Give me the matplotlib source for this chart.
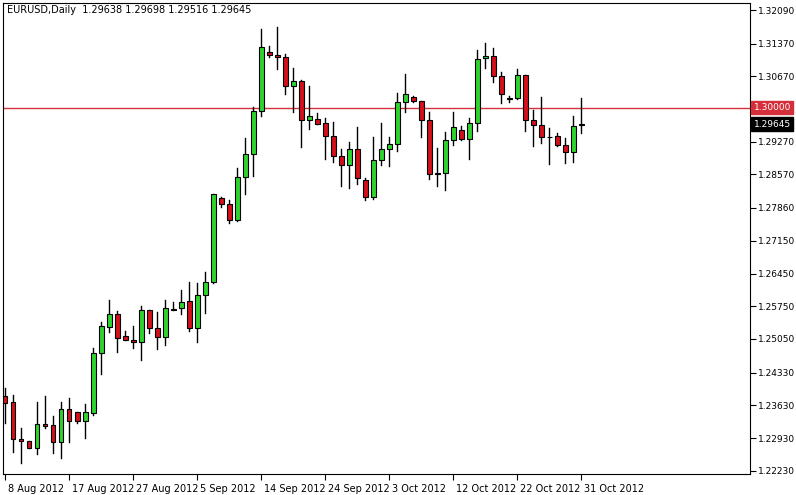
import matplotlib
matplotlib.use("Agg")
import matplotlib.pyplot as plt
from matplotlib.patches import Rectangle
import matplotlib.transforms as mt

opens = [1.23830,1.23701,1.22909,1.22867,1.22717,1.23230,1.23209,1.22845,1.23551,1.23487,
         1.23295,1.23466,1.24750,1.25306,1.25584,1.25114,1.25028,1.24985,1.25670,1.25285,
         1.25092,1.25691,1.25713,1.25863,1.25285,1.25991,1.26269,1.28067,1.27938,1.27596,
         1.28516,1.29008,1.29929,1.31191,1.31127,1.31084,1.30464,1.30571,1.29736,1.29757,
         1.29672,1.29394,1.28966,1.28773,1.29115,1.28452,1.28088,1.28880,1.29115,1.29222,
         1.30121,1.30228,1.30143,1.29736,1.28602,1.28602,1.29308,1.29522,1.29329,1.29672,
         1.31063,1.31106,1.30678,1.30207,1.30207,1.30699,1.29736,1.29629,1.29372,1.29394,
         1.29201,1.29051,1.29638]
highs = [1.24001,1.23851,1.23145,1.22867,1.23701,1.23830,1.23402,1.23701,1.23787,1.23487,
         1.23658,1.24857,1.25413,1.25884,1.25649,1.25221,1.25328,1.25756,1.25670,1.25627,
         1.25884,1.25841,1.26098,1.26269,1.26248,1.26483,1.28152,1.28088,1.28024,1.28709,
         1.29351,1.30014,1.31683,1.31320,1.31726,1.31148,1.30849,1.30592,1.30464,1.29886,
         1.29779,1.29693,1.29115,1.29265,1.29586,1.28495,1.29372,1.29672,1.29372,1.30314,
         1.30720,1.30250,1.30143,1.29907,1.29137,1.29479,1.29907,1.29608,1.29779,1.31234,
         1.31384,1.31277,1.30763,1.30250,1.30827,1.30699,1.29950,1.30228,1.29565,1.29458,
         1.29351,1.29822,1.30207]
lows = [1.23252,1.22631,1.22396,1.22717,1.22588,1.23145,1.22610,1.22503,1.22845,1.23252,
        1.22931,1.23423,1.24300,1.25199,1.24771,1.25028,1.24857,1.24600,1.25178,1.24835,
        1.24921,1.25670,1.25584,1.25221,1.24985,1.25606,1.26248,1.27874,1.27532,1.27575,
        1.28152,1.28538,1.29822,1.31084,1.30827,1.30292,1.29907,1.29158,1.29543,1.29650,
        1.28901,1.28837,1.28324,1.28281,1.28366,1.28024,1.28045,1.28773,1.28752,1.29073,
        1.29907,1.30121,1.29372,1.28473,1.28324,1.28238,1.29201,1.29308,1.28901,1.29501,
        1.30849,1.30549,1.30100,1.30121,1.30185,1.29501,1.29180,1.29244,1.28794,1.29180,
        1.28816,1.28837,1.29458]
closes = [1.23680,1.22909,1.22867,1.22717,1.23230,1.23188,1.22845,1.23551,1.23295,1.23295,
          1.23487,1.24750,1.25328,1.25584,1.25071,1.25028,1.24985,1.25670,1.25285,1.25092,
          1.25713,1.25670,1.25841,1.25285,1.25991,1.26269,1.28152,1.27938,1.27596,1.28516,
          1.29008,1.29929,1.31298,1.31127,1.31084,1.30464,1.30571,1.29736,1.29822,1.29650,
          1.29394,1.28966,1.28773,1.29115,1.28495,1.28088,1.28880,1.29115,1.29222,1.30121,
          1.30292,1.30143,1.29736,1.28580,1.28580,1.29308,1.29586,1.29329,1.29672,1.31041,
          1.31106,1.30678,1.30292,1.30196,1.30699,1.29736,1.29629,1.29372,1.29370,1.29201,
          1.29051,1.29608,1.29645]

date_labels = ["8 Aug 2012","17 Aug 2012","27 Aug 2012","5 Sep 2012","14 Sep 2012",
               "24 Sep 2012","3 Oct 2012","12 Oct 2012","22 Oct 2012","31 Oct 2012"]
date_pos = [0, 8, 16, 24, 32, 40, 48, 56, 64, 72]
price_ticks = [1.32090,1.31370,1.30670,1.29270,1.28570,1.27860,1.27150,1.26450,
               1.25750,1.25050,1.24330,1.23630,1.22930,1.22230]
level = 1.30000
last_price = 1.29645
title = "EURUSD,Daily  1.29638 1.29698 1.29516 1.29645"

W, H = 796, 495
fig = plt.figure(figsize=(W/100, H/100), dpi=100)
ax = fig.add_axes([3/W, (H-474)/H, (750-3)/W, (474-3)/H])
ax.set_xlim(-0.25, 93.1)
ax.set_ylim(1.22160, 1.32240)

green = '#2fd42f'
red = '#d3101b'
bw = 0.62
for i, (o, h, l, c) in enumerate(zip(opens, highs, lows, closes)):
    ax.plot([i, i], [l, h], color='black', lw=1.0, zorder=2)
    col = green if c > o else red
    bot = min(o, c)
    ht = max(abs(c - o), 0.00012)
    ax.add_patch(Rectangle((i - bw/2, bot), bw, ht, facecolor=col,
                           edgecolor='black', lw=0.8, zorder=3))

ax.axhline(level, color='#d42f3a', lw=1.0, zorder=1)

ax.yaxis.tick_right()
ax.set_yticks(price_ticks)
ax.set_yticklabels([f"{p:.5f}" for p in price_ticks], fontsize=6.5)
ax.set_xticks(date_pos)
ax.set_xticklabels(date_labels, fontsize=7, ha='left')
ax.tick_params(axis='x', length=4, pad=3)
ax.tick_params(axis='y', length=4, pad=2)
off = mt.ScaledTranslation(2/72, 0, fig.dpi_scale_trans)
for lab in ax.get_xticklabels():
    lab.set_transform(lab.get_transform() + off)
for s in ax.spines.values():
    s.set_color('black'); s.set_linewidth(0.8)

ax.text(1.005, level, "1.30000", transform=ax.get_yaxis_transform(), fontsize=6.5,
        color='white', va='center', ha='left',
        bbox=dict(boxstyle='square,pad=0.25', fc='#d42f3a', ec='#d42f3a'))
ax.text(1.005, last_price, "1.29645", transform=ax.get_yaxis_transform(), fontsize=6.5,
        color='white', va='center', ha='left',
        bbox=dict(boxstyle='square,pad=0.25', fc='black', ec='black'))
ax.text(0.005, 0.995, title, transform=ax.transAxes, fontsize=7, va='top', ha='left')

fig.savefig("out.png", dpi=100)
